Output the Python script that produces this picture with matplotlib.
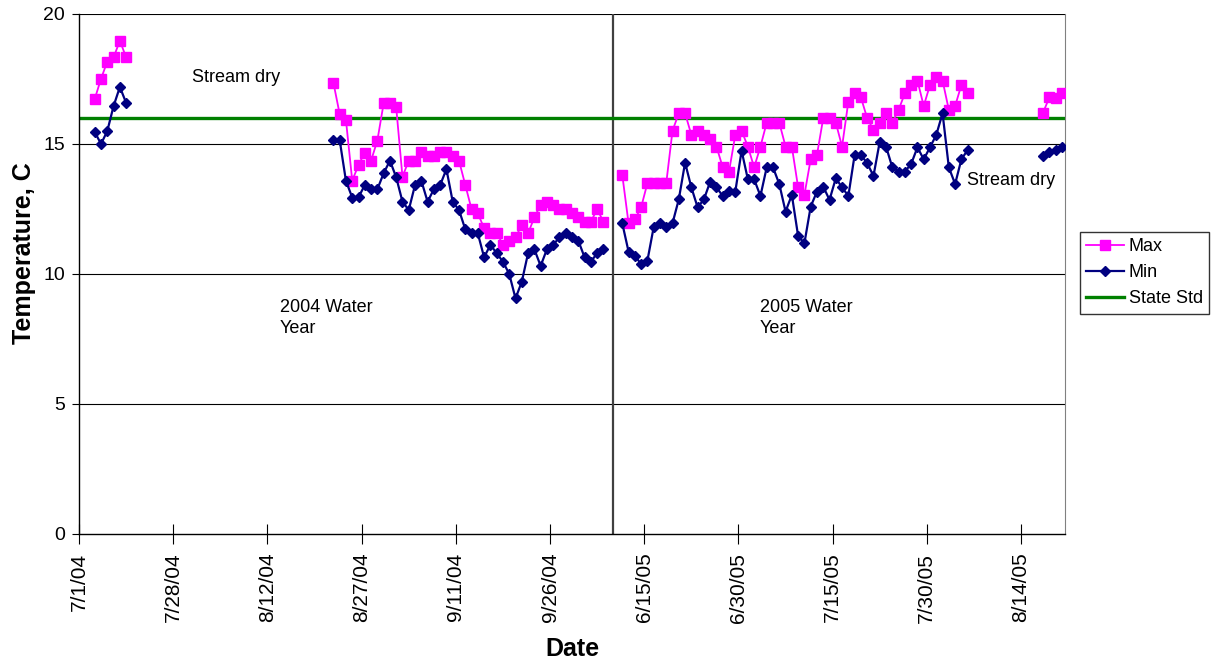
import numpy as np
import matplotlib
matplotlib.use("Agg")
import matplotlib.pyplot as plt

plt.rcParams['font.family'] = ['Liberation Sans', 'DejaVu Sans']

# category axis: one slot per sampled day, gaps where the stream was dry
n_cat = 157
tick_pos = [0, 15, 30, 45, 60, 75, 90, 105, 120, 135, 150]
tick_labels = ['7/1/04', '7/28/04', '8/12/04', '8/27/04', '9/11/04', '9/26/04',
               '6/15/05', '6/30/05', '7/15/05', '7/30/05', '8/14/05']
year_split = 85
state_std = 16

# segment start categories
seg_start = [2, 40, 86, 153]

max_seg1 = [16.73, 17.51, 18.17, 18.33, 18.97, 18.33]
min_seg1 = [15.46, 15.0, 15.5, 16.46, 17.19, 16.58]

max_seg2 = [17.36, 16.15, 15.92, 13.59, 14.19, 14.67, 14.36, 15.13, 16.56, 16.56,
            16.41, 13.74, 14.36, 14.36, 14.70, 14.54, 14.54, 14.70, 14.70, 14.54,
            14.36, 13.42, 12.49, 12.33, 11.76, 11.59, 11.59, 11.12, 11.28, 11.41,
            11.88, 11.56, 12.18, 12.65, 12.78, 12.65, 12.49, 12.49, 12.33, 12.18,
            12.01, 12.01, 12.49, 12.01]
min_seg2 = [15.15, 15.15, 13.58, 12.94, 12.95, 13.42, 13.26, 13.26, 13.87, 14.36,
            13.72, 12.78, 12.46, 13.42, 13.59, 12.78, 13.26, 13.42, 14.03, 12.78,
            12.46, 11.72, 11.56, 11.56, 10.64, 11.12, 10.80, 10.47, 10.00, 9.06,
            9.70, 10.80, 10.95, 10.31, 10.95, 11.12, 11.41, 11.59, 11.41, 11.28,
            10.64, 10.47, 10.80, 10.95]

max_seg3 = [13.81, 11.95, 12.10, 12.56, 13.49, 13.49, 13.49, 13.49, 15.51, 16.18,
            16.18, 15.35, 15.51, 15.35, 15.18, 14.90, 14.10, 13.94, 15.35, 15.51,
            14.90, 14.10, 14.90, 15.82, 15.82, 15.82, 14.90, 14.90, 13.33, 13.04,
            14.41, 14.58, 15.99, 15.99, 15.82, 14.90, 16.63, 16.97, 16.79, 15.99,
            15.54, 15.82, 16.18, 15.82, 16.31, 16.95, 17.27, 17.44, 16.46, 17.27,
            17.59, 17.44, 16.31, 16.46, 17.27, 16.95]
min_seg3 = [11.95, 10.86, 10.70, 10.38, 10.51, 11.80, 11.95, 11.80, 11.95, 12.87,
            14.28, 13.33, 12.56, 12.87, 13.55, 13.33, 13.00, 13.21, 13.17, 14.74,
            13.64, 13.64, 13.00, 14.10, 14.10, 13.46, 12.40, 13.04, 11.46, 11.18,
            12.59, 13.17, 13.36, 12.85, 13.68, 13.33, 13.00, 14.58, 14.58, 14.26,
            13.77, 15.09, 14.90, 14.10, 13.94, 13.94, 14.23, 14.87, 14.41, 14.87,
            15.35, 16.18, 14.10, 13.46, 14.41, 14.77]

max_seg4 = [16.20, 16.79, 16.76, 16.95]
min_seg4 = [14.55, 14.68, 14.75, 14.90]


def build(segs):
    y = np.full(n_cat, np.nan)
    for s, vals in zip(seg_start, segs):
        y[s:s + len(vals)] = vals
    return y


def main():
    t_max = build([max_seg1, max_seg2, max_seg3, max_seg4])
    t_min = build([min_seg1, min_seg2, min_seg3, min_seg4])
    x = np.arange(n_cat) + 0.5

    fig = plt.figure(figsize=(12.18, 6.62), dpi=100)
    ax = fig.add_axes([0.0649, 0.1934, 0.8095, 0.7855])

    for yv in [5, 10, 15, 20]:
        ax.axhline(yv, color='black', lw=0.8, zorder=1)
    ax.axvline(year_split, color='#404040', lw=1.6, zorder=1)

    ax.plot(x, t_max, color='#FF00FF', lw=1.3, marker='s', ms=6.5,
            label='Max', zorder=3)
    ax.plot(x, t_min, color='#000080', lw=1.6, marker='D', ms=5.5,
            label='Min', zorder=4)
    ax.axhline(state_std, color='#008000', lw=2.4, label='State Std', zorder=2)

    ax.set_xlim(0, n_cat)
    ax.set_ylim(0, 20)
    ax.set_yticks([0, 5, 10, 15, 20])
    ax.set_xticks(tick_pos)
    ax.set_xticklabels(tick_labels, rotation=90)
    ax.tick_params(axis='x', direction='inout', length=15, labelsize=15, pad=6)
    ax.tick_params(axis='y', direction='out', length=5, labelsize=14, pad=5)

    ax.spines['top'].set_visible(False)
    ax.spines['right'].set_color('#808080')
    ax.spines['left'].set_linewidth(1.0)
    ax.spines['bottom'].set_linewidth(1.0)

    ax.set_ylabel('Temperature, C', fontsize=18, fontweight='bold')
    ax.yaxis.set_label_coords(-0.044, 0.54)
    ax.set_xlabel('Date', fontsize=18, fontweight='bold')
    ax.xaxis.set_label_coords(0.5, -0.198)

    ax.text(18.0, 17.54, 'Stream dry', fontsize=13, va='center')
    ax.text(141.4, 13.58, 'Stream dry', fontsize=13, va='center')
    ax.text(32.0, 8.3, '2004 Water\nYear', fontsize=13, va='center',
            linespacing=1.3)
    ax.text(108.4, 8.3, '2005 Water\nYear', fontsize=13, va='center',
            linespacing=1.3)

    leg = ax.legend(loc='upper left', bbox_to_anchor=(1.015, 0.581),
                    frameon=True, fancybox=False, edgecolor='black',
                    fontsize=13, handlelength=2.1, borderpad=0.35,
                    labelspacing=0.5, handletextpad=0.25, borderaxespad=0)
    leg.get_frame().set_linewidth(1.0)

    fig.savefig('out.png', dpi=100)


if __name__ == "__main__":
    main()
